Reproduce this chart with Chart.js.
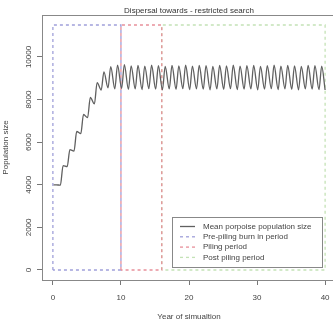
<!DOCTYPE html>
<html>
<head>
<meta charset="utf-8">
<script src="https://cdn.jsdelivr.net/npm/chart.js@4"></script>
<style>
  html, body { margin: 0; padding: 0; background: #fff; overflow: hidden; }
  #wrap { width: 345px; height: 325px; }
</style>
</head>
<body>
<div id="wrap"><canvas id="popChart" width="345" height="325"></canvas></div>
<script>
// yearly low / high of the mean population (one pair per year, years 0..39)
const troughs = [4000, 3980, 4850, 5580, 6400, 7150, 7800, 8450, 8550, 8500,
                 8520, 8480, 8500, 8470, 8510, 8490, 8460, 8500, 8480, 8510,
                 8470, 8500, 8490, 8460, 8500, 8480, 8510, 8470, 8490, 8500,
                 8460, 8490, 8510, 8470, 8500, 8480, 8460, 8500, 8490, 8470];
const peaks   = [4000, 4900, 5650, 6500, 7300, 8100, 8800, 9300, 9550, 9620,
                 9640, 9580, 9600, 9570, 9610, 9590, 9560, 9600, 9580, 9610,
                 9570, 9600, 9590, 9560, 9600, 9580, 9610, 9570, 9590, 9600,
                 9560, 9590, 9610, 9570, 9600, 9580, 9560, 9600, 9590, 9570];
const lastYear = 40;
const lastValue = 8450;

// study periods (start year, end year) and top of the dashed boxes
const periodNames = ['Pre-piling burn in period', 'Piling period', 'Post piling period'];
const periodStarts = [0, 10, 16];
const periodEnds = [10, 16, 40];
const periodColors = ['#a0a0da', '#e8909a', '#c4e2b6'];
const periodOrder = [2, 1, 3]; // piling box drawn over its neighbours
const periodTop = 11500;

const xTickValues = [0, 10, 20, 30, 40];
const yTickValues = [0, 2000, 4000, 6000, 8000, 10000];

const textFont = "'Liberation Sans', Arial, sans-serif";
const textColor = '#444';

function buildLinePoints() {
    const pts = [];
    for (let i = 0; i < troughs.length; i++) {
        pts.push({ x: i + 0.1, y: troughs[i] });
        pts.push({ x: i + 0.5, y: peaks[i] });
    }
    pts.push({ x: lastYear, y: lastValue });
    return pts;
}

function buildBox(start, end) {
    return [
        { x: start, y: 0 }, { x: start, y: periodTop },
        { x: end, y: periodTop }, { x: end, y: 0 }, { x: start, y: 0 }
    ];
}

const datasets = [{
    label: 'Mean porpoise population size',
    data: buildLinePoints(),
    borderColor: '#606060',
    borderWidth: 1.3,
    pointRadius: 0,
    cubicInterpolationMode: 'monotone',
    order: 0
}];
periodNames.forEach((name, i) => {
    datasets.push({
        label: name,
        data: buildBox(periodStarts[i], periodEnds[i]),
        borderColor: periodColors[i],
        borderWidth: 1.3,
        borderDash: [3, 3],
        pointRadius: 0,
        tension: 0,
        order: periodOrder[i]
    });
});

// R-style frame, rotated y tick labels and boxed legend
const rStyle = {
    id: 'rStyle',
    afterDraw(chart) {
        const ctx = chart.ctx;
        const area = chart.chartArea;
        ctx.save();
        ctx.strokeStyle = '#888';
        ctx.lineWidth = 1;
        ctx.strokeRect(area.left + 0.5, area.top + 0.5, area.right - area.left, area.bottom - area.top);

        ctx.fillStyle = textColor;
        ctx.font = '8px ' + textFont;
        ctx.textAlign = 'center';
        ctx.textBaseline = 'middle';
        yTickValues.forEach(v => {
            const y = chart.scales.y.getPixelForValue(v);
            ctx.save();
            ctx.translate(28.5, y);
            ctx.rotate(-Math.PI / 2);
            ctx.fillText(String(v), 0, 0);
            ctx.restore();
        });

        // legend
        const lx = 172, ly = 217, lw = 150, lh = 50;
        ctx.fillStyle = '#fff';
        ctx.fillRect(lx, ly, lw, lh);
        ctx.strokeStyle = '#888';
        ctx.strokeRect(lx + 0.5, ly + 0.5, lw, lh);
        ctx.textAlign = 'left';
        chart.data.datasets.forEach((ds, i) => {
            const y = ly + 9.5 + i * 10.3;
            ctx.strokeStyle = ds.borderColor;
            ctx.lineWidth = 1.3;
            ctx.setLineDash(ds.borderDash || []);
            ctx.beginPath();
            ctx.moveTo(lx + 8, y);
            ctx.lineTo(lx + 23, y);
            ctx.stroke();
            ctx.setLineDash([]);
            ctx.fillStyle = textColor;
            ctx.fillText(ds.label, lx + 31, y);
        });
        ctx.restore();
    }
};

const ctx = document.getElementById('popChart').getContext('2d');
new Chart(ctx, {
    type: 'line',
    data: { datasets: datasets },
    options: {
        responsive: false,
        animation: false,
        events: [],
        layout: { padding: { left: 0, right: 9, top: 0, bottom: 0 } },
        scales: {
            x: {
                type: 'linear',
                min: -1.6,
                max: 41.6,
                afterBuildTicks: s => { s.ticks = xTickValues.map(v => ({ value: v })); },
                afterFit: s => { s.height = 45; },
                grid: { drawOnChartArea: false, drawTicks: true, tickLength: 5, color: '#777' },
                border: { display: false },
                ticks: { padding: 8, color: textColor, font: { family: textFont, size: 8 } },
                title: {
                    display: true,
                    text: 'Year of simualtion',
                    color: textColor,
                    font: { family: textFont, size: 8 },
                    padding: { top: 0, bottom: 3 }
                }
            },
            y: {
                min: -470,
                max: 11970,
                afterBuildTicks: s => { s.ticks = yTickValues.map(v => ({ value: v })); },
                afterFit: s => { s.width = 42; },
                grid: { drawOnChartArea: false, drawTicks: true, tickLength: 5, color: '#777' },
                border: { display: false },
                ticks: { display: false },
                title: {
                    display: true,
                    text: 'Population size',
                    color: textColor,
                    font: { family: textFont, size: 8 },
                    padding: { top: 1, bottom: 0 }
                }
            }
        },
        plugins: {
            legend: { display: false },
            tooltip: { enabled: false },
            title: {
                display: true,
                fullSize: false,
                text: 'Dispersal towards - restricted search',
                color: '#333',
                font: { family: textFont, size: 8, weight: 'normal' },
                padding: { top: 5.7, bottom: -0.3 }
            }
        }
    },
    plugins: [rStyle]
});
</script>
</body>
</html>
